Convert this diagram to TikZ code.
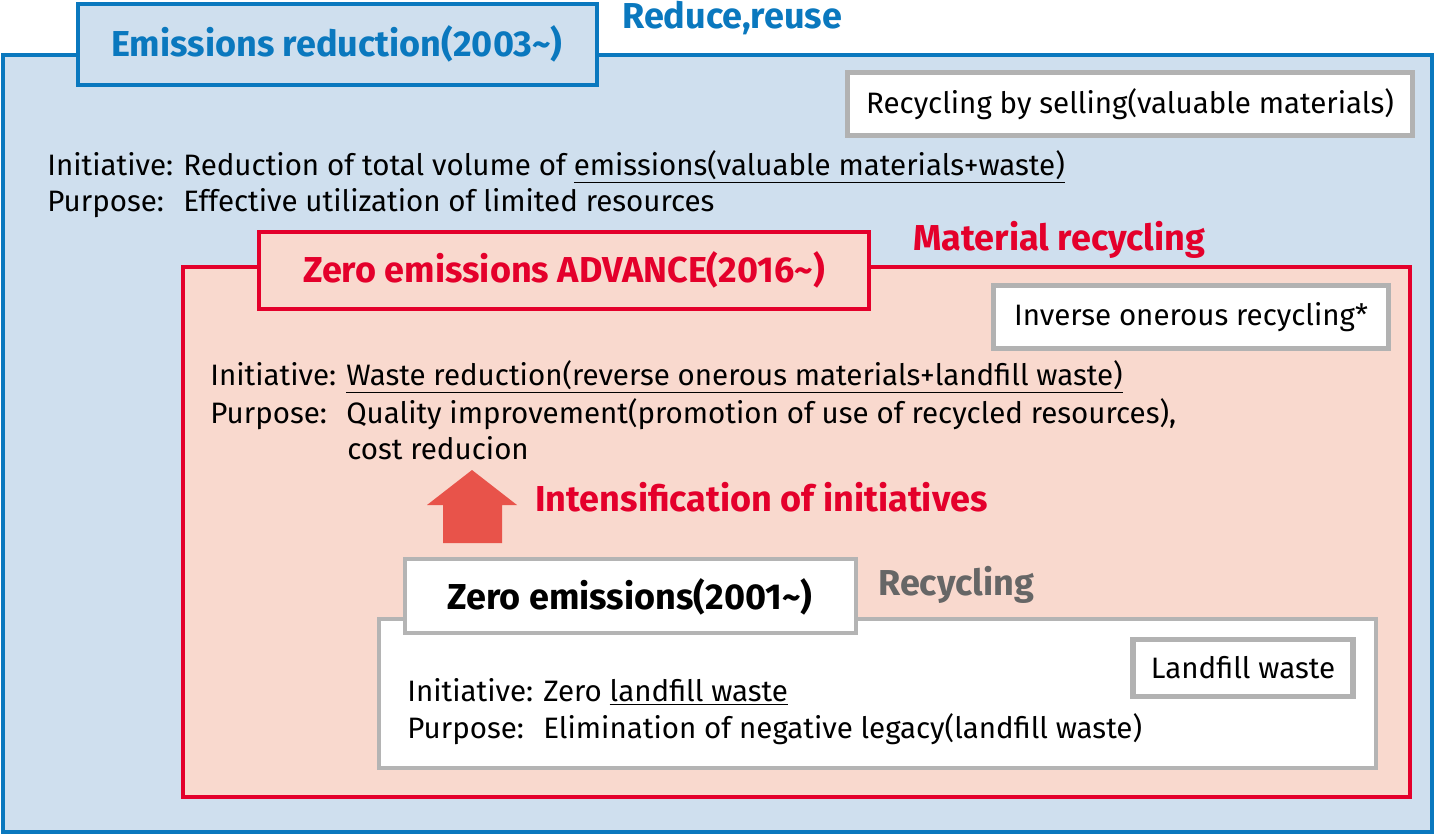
\documentclass[tikz,border=0pt]{standalone}
\usepackage{fontspec}
\setmainfont{Fira Sans}
\usetikzlibrary{positioning}
\definecolor{rblue}{HTML}{0A78BE}
\definecolor{lblue}{HTML}{CFDFEE}
\definecolor{rred}{HTML}{E4002B}
\definecolor{lred}{HTML}{F9D9CE}
\definecolor{rgray}{HTML}{B4B4B4}
\definecolor{arrowred}{HTML}{E8534A}
\newcommand{\lbl}[1]{\makebox[2.72cm][l]{#1}}
\tikzset{
  body/.style={anchor=west, inner sep=0pt, font=\fontsize{16.8}{20}\selectfont},
  head/.style={inner sep=0pt, font=\fontsize{20.5}{24}\selectfont\bfseries},
  button/.style={fill=white, draw=gray!60, line width=3pt, inner sep=0pt,
    font=\fontsize{16.8}{20}\selectfont},
}
\begin{document}
\begin{tikzpicture}[x=0.02cm, y=-0.02cm]
\useasboundingbox (0,0) rectangle (1436,836);
% blue level
\draw[rblue, fill=lblue, line width=2.8pt] (3,55) rectangle (1432,832);
\draw[rblue, fill=lblue, line width=2.8pt] (78,4) rectangle (597,85);
\node[head, rblue] (t1) at (337,44) {Emissions reduction(2003\textasciitilde)};
\node[head, rblue, anchor=west] (l1) at (622,18) {Reduce,reuse};
\node[button, minimum width=11.3cm, minimum height=1.25cm] (b1) at (1130,104) {Recycling by selling(valuable materials)};
\node[body] (i1) at (47,167) {\lbl{Initiative:}Reduction of total volume of \underline{emissions(valuable materials+waste)}};
\node[body] (p1) at (47,203) {\lbl{Purpose:}Effective utilization of limited resources};
% red level
\draw[rred, fill=lred, line width=1.8pt] (183,267) rectangle (1410,797);
\draw[rred, fill=lred, line width=2.2pt] (259,232) rectangle (869,309);
\node[head, rred] (t2) at (564,270) {Zero emissions ADVANCE(2016\textasciitilde)};
\node[head, rred, anchor=west] (l2) at (913,240) {Material recycling};
\node[button, minimum width=7.9cm, minimum height=1.25cm] (b2) at (1191,317) {Inverse onerous recycling*};
\node[body] (i2) at (210,377) {\lbl{Initiative:}\underline{Waste reduction(reverse onerous materials+landfill waste)}};
\node[body] (p2) at (210,414) {\lbl{Purpose:}Quality improvement(promotion of use of recycled resources),};
\node[body] (c2) at (347,448) {cost reducion};
\fill[arrowred] (443,543) -- (443,505) -- (427,505) -- (472,470) -- (517,505) -- (502,505) -- (502,543) -- cycle;
\node[head, rred, anchor=west] (a2) at (535,497) {Intensification of initiatives};
% gray level
\draw[rgray, fill=white, line width=1.8pt] (379,619) rectangle (1376,768);
\draw[rgray, fill=white, line width=1.8pt] (405,559) rectangle (856,633);
\node[head, black] (t3) at (630,597) {Zero emissions(2001\textasciitilde)};
\node[head, black!60, anchor=west] (l3) at (878,585) {Recycling};
\node[button, minimum width=4.4cm, minimum height=1.15cm] (b3) at (1243,668) {Landfill waste};
\node[body] (i3) at (407,692) {\lbl{Initiative:}Zero \underline{landfill waste}};
\node[body] (p3) at (407,729) {\lbl{Purpose:}Elimination of negative legacy(landfill waste)};
\end{tikzpicture}
\end{document}
